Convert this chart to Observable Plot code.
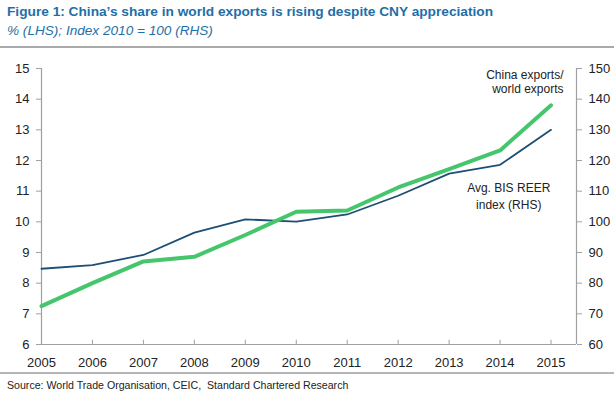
<!DOCTYPE html>
<html>
<head>
<meta charset="utf-8">
<script src="https://cdn.jsdelivr.net/npm/d3@7"></script>
<script src="https://cdn.jsdelivr.net/npm/@observablehq/plot@0.6"></script>
<style>
  html, body { margin: 0; padding: 0; background: #fff; }
  body { width: 614px; height: 394px; position: relative; overflow: hidden;
         font-family: "Liberation Sans", Arial, sans-serif; }
  #title { position: absolute; left: 7px; top: 4px; font-weight: bold; font-size: 13.7px; color: #1e6fa8; white-space: nowrap; }
  #subtitle { position: absolute; left: 7px; top: 23px; font-style: italic; font-size: 13.6px; color: #1e6fa8; white-space: nowrap; }
  #rule1 { position: absolute; left: 0; top: 46px; width: 614px; height: 2px; background: #a9a9a9; }
  #chart { position: absolute; left: 0; top: 50px; }
  #rule2 { position: absolute; left: 0; top: 372px; width: 614px; height: 2px; background: #b5b5b5; }
  #source { position: absolute; left: 7px; top: 379px; font-size: 10.6px; color: #222; white-space: nowrap; }
</style>
</head>
<body>
<div id="title">Figure 1: China’s share in world exports is rising despite CNY appreciation</div>
<div id="subtitle">% (LHS); Index 2010 = 100 (RHS)</div>
<div id="rule1"></div>
<div id="chart"></div>
<div id="rule2"></div>
<div id="source">Source: World Trade Organisation, CEIC,&nbsp; Standard Chartered Research</div>
<script>
const years = [2005, 2006, 2007, 2008, 2009, 2010, 2011, 2012, 2013, 2014, 2015];
// China exports / world exports, % (LHS)
const chinaShare = [7.25, 8.0, 8.71, 8.86, 9.57, 10.33, 10.37, 11.12, 11.72, 12.33, 13.8];
// Avg. BIS REER index, 2010 = 100 (RHS)
const reer = [84.7, 85.9, 89.2, 96.5, 100.8, 100.1, 102.4, 108.5, 115.7, 118.6, 130.0];
const lhsTicks = [6, 7, 8, 9, 10, 11, 12, 13, 14, 15];
const rhsTicks = [60, 70, 80, 90, 100, 110, 120, 130, 140, 150];
const xTicks = years;

// map RHS values onto LHS scale (60..150 -> 6..15)
const toL = v => 6 + (v - 60) / 10;

const shareData = years.map((y, i) => ({year: y, v: chinaShare[i]}));
const reerData = years.map((y, i) => ({year: y, v: toL(reer[i])}));

const axisColor = "#a0a0a0";

const chart = Plot.plot({
  width: 614,
  height: 322,
  marginTop: 18,
  marginBottom: 28,
  marginLeft: 41,
  marginRight: 38,
  style: {fontFamily: "\"Liberation Sans\", Arial, sans-serif", fontSize: "13px", color: "#222", background: "white"},
  x: {domain: [2005, 2015.5], axis: null, label: null},
  y: {domain: [6, 15], axis: null, label: null},
  marks: [
    // axis lines
    Plot.ruleX([2005], {stroke: axisColor, strokeWidth: 1.2}),
    Plot.ruleX([2015.5], {stroke: axisColor, strokeWidth: 1.2}),
    Plot.ruleY([6], {stroke: axisColor, strokeWidth: 1.2}),
    // left axis
    Plot.axisY(lhsTicks, {anchor: "left", label: null, tickSize: 5, tickPadding: 7, stroke: axisColor, fill: "#222", fontSize: 13, tickFormat: d => d}),
    // right axis
    Plot.axisY(rhsTicks.map(toL), {anchor: "right", label: null, tickSize: 5, tickPadding: 7, stroke: axisColor, fill: "#222", fontSize: 13,
      tickFormat: d => String(Math.round(60 + (d - 6) * 10))}),
    // x axis: inward ticks
    Plot.ruleX(xTicks, {x: d => d, y1: 6, y2: 6.14, stroke: axisColor, strokeWidth: 1}),
    Plot.axisX(xTicks, {anchor: "bottom", label: null, tickSize: 0, tickPadding: 13, fill: "#222", fontSize: 13, tickFormat: d => String(d)}),
    // series
    Plot.line(reerData, {x: "year", y: "v", stroke: "#1d4e74", strokeWidth: 1.8}),
    Plot.line(shareData, {x: "year", y: "v", stroke: "#45c66c", strokeWidth: 4}),
    // annotations
    Plot.text(["China exports/\nworld exports"], {x: 2015.245, y: 14.58, textAnchor: "end", lineHeight: 1.2, fontSize: 12, fill: "#222"}),
    Plot.text(["Avg. BIS REER\nindex (RHS)"], {x: 2014.17, y: 10.88, textAnchor: "middle", lineHeight: 1.4, fontSize: 12, fill: "#222"})
  ]
});
document.getElementById("chart").appendChild(chart);
</script>
</body>
</html>
